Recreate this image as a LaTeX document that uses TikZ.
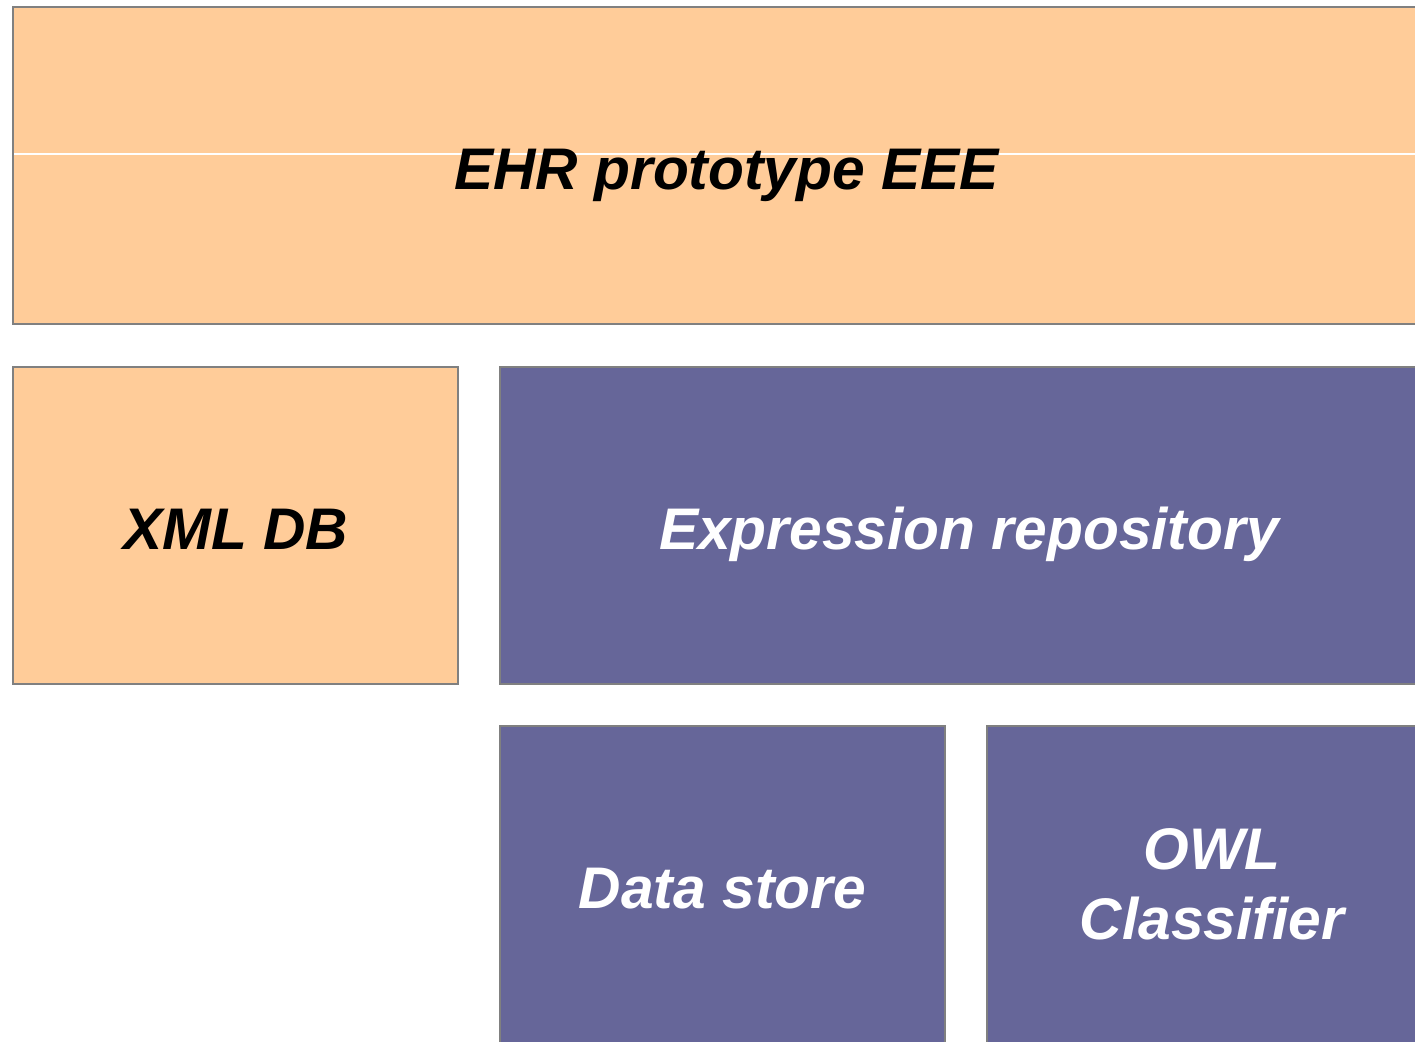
\documentclass[tikz,border=0pt]{standalone}
\usepackage{fontspec}
\setmainfont{Liberation Sans}
\usetikzlibrary{positioning}
\definecolor{boxorange}{HTML}{FFCC99}
\definecolor{boxpurple}{HTML}{666699}
\definecolor{boxline}{HTML}{808080}
\tikzstyle{tier} = [rectangle, minimum height=3.17cm, outer sep=0pt, text centered, align=center, draw=boxline, line width=0.6pt, font=\fontsize{16.7pt}{19.9pt}\selectfont\bfseries\itshape]
\tikzstyle{oneline} = [text height=13.7pt, text depth=0pt]
\tikzstyle{local} = [tier, fill=boxorange, text=black]
\tikzstyle{service} = [tier, fill=boxpurple, text=white]

\begin{document}
\begin{tikzpicture}

        % Crop to the visible area
        \clip (0,0) rectangle (14.15,-10.41);
        \fill[white] (0,0) rectangle (14.15,-10.41);

        % Application on top
        \node[local, oneline, minimum width=14.27cm, path picture={\draw[white, line width=0.4pt] ([yshift=0.115cm]path picture bounding box.west) -- ++(14.3,0);}] (ehr) at (7.265,-1.655) {EHR prototype EEE};

        % Storage row
        \node[local, oneline, minimum width=4.45cm, below=0.43cm of ehr.south west, anchor=north west] (xmldb) {XML DB};
        \node[service, oneline, minimum width=9.38cm, right=0.42cm of xmldb.north east, anchor=north west] (exprepo) {Expression repository};

        % Services under the repository
        \node[service, oneline, minimum width=4.45cm, below=0.42cm of exprepo.south west, anchor=north west] (datastore) {Data store};
        \node[service, minimum width=4.5cm, right=0.42cm of datastore.north east, anchor=north west] (owl) {OWL\\Classifier};

\end{tikzpicture}
\end{document}
